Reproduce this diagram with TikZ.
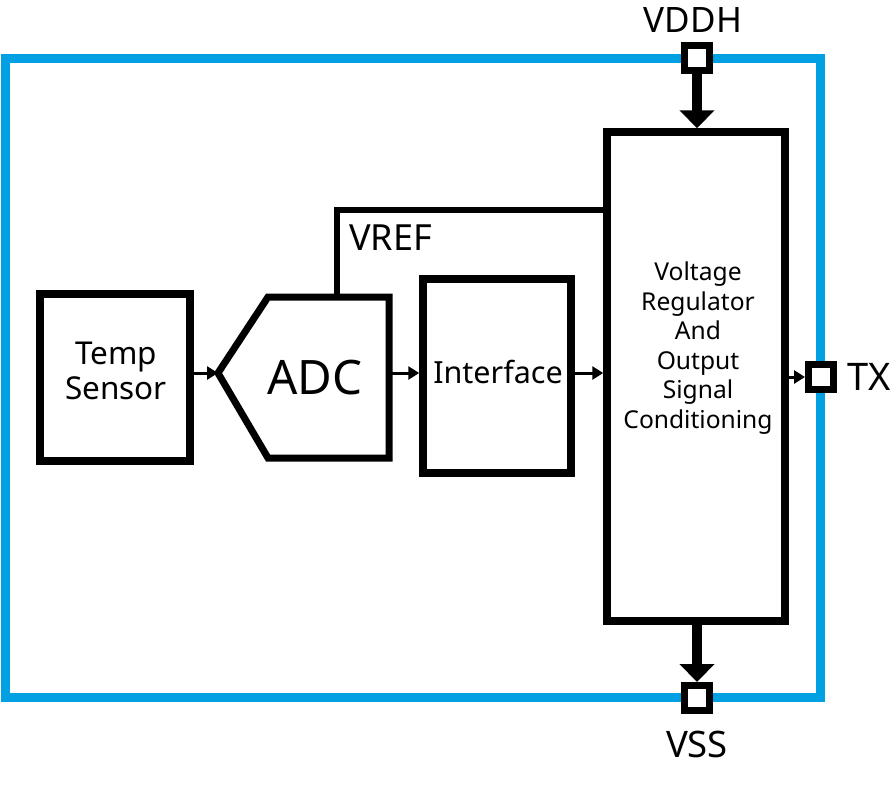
\documentclass[tikz,border=0pt]{standalone}
\usepackage{fontspec}
\setmainfont{Noto Sans}
\usetikzlibrary{arrows.meta,calc}
\definecolor{chipblue}{RGB}{0,160,227}
\tikzset{
  blk/.style={draw=black, line width=7.5pt, rectangle, inner sep=0pt, align=center},
  pinbox/.style={draw=black, fill=white, line width=7pt, rectangle, minimum size=25pt, inner sep=0pt},
  sigarrow/.style={line width=3pt, -{Triangle[length=11pt,width=13pt]}},
  bigarrow/.style={line width=10pt, -{Triangle[length=18pt,width=34pt]}},
  wire/.style={line width=6.5pt},
  lbl/.style={inner sep=0pt, align=center}
}
\begin{document}
\begin{tikzpicture}[x=1pt,y=-1pt]
\useasboundingbox (0,0) rectangle (890,796);
% chip outline
\draw[chipblue, line width=9pt] (5,58) rectangle (820.5,697);
% blocks
\node[blk, minimum width=150pt, minimum height=167pt] (temp) at (115,377.5) {};
\node[lbl, font=\fontsize{31.5}{35}\selectfont] (temptxt) at (116,371) {Temp\\Sensor};
\node[blk, minimum width=148pt, minimum height=194pt] (intf) at (497,376) {};
\node[lbl, font=\fontsize{30.5}{32}\selectfont] (intftxt) at (498,372) {Interface};
\node[blk, minimum width=178pt, minimum height=489pt] (reg) at (696,376.5) {};
\node[lbl, font=\fontsize{24.6}{29.5}\selectfont] (regtxt) at (698,348) {Voltage\\Regulator\\And\\Output\\Signal\\Conditioning};
% ADC shape
\coordinate (adcL) at (218,373);
\coordinate (adcTL) at (268,297);
\coordinate (adcTR) at (389,297);
\coordinate (adcBR) at (389,458);
\coordinate (adcBL) at (268,458);
\coordinate (adcR) at (389,373);
\coordinate (adcT) at (337,297);
\draw[line width=7pt, line join=miter] (adcL) -- (adcTL) -- (adcTR) -- (adcBR) -- (adcBL) -- cycle;
\node[lbl, font=\fontsize{47.5}{50}\selectfont] (adctxt) at (315,378) {ADC};
% VREF wire
\coordinate (vrefc) at (337,210);
\draw[wire] (adcT) -- (vrefc) -- (vrefc -| reg.west);
\node[lbl, anchor=base west, font=\fontsize{36}{38}\selectfont] (vref) at (349,250) {VREF};
% signal arrows
\draw[sigarrow] (temp.east |- adcL) -- (adcL);
\draw[sigarrow] (adcR) -- (adcR -| intf.west);
\draw[sigarrow] (intf.east |- adcL) -- (intf.east |- adcL -| reg.west);
% pins
\node[pinbox] (vddh) at (697,58) {};
\node[pinbox] (tx) at (821,377) {};
\node[pinbox] (vss) at (697,698) {};
\node[lbl, font=\fontsize{35}{38}\selectfont] (vddhl) at (693,20) {VDDH};
\node[lbl, anchor=west, font=\fontsize{38}{40}\selectfont] (txl) at (847,377) {TX};
\node[lbl, font=\fontsize{36.5}{38}\selectfont] (vssl) at (697,744) {VSS};
\draw[bigarrow] (vddh.south) -- (vddh.south |- reg.north);
\draw[bigarrow] (vss.north |- reg.south) -- (vss.north);
\draw[sigarrow] (reg.east |- tx) -- (tx.west);
\end{tikzpicture}
\end{document}
